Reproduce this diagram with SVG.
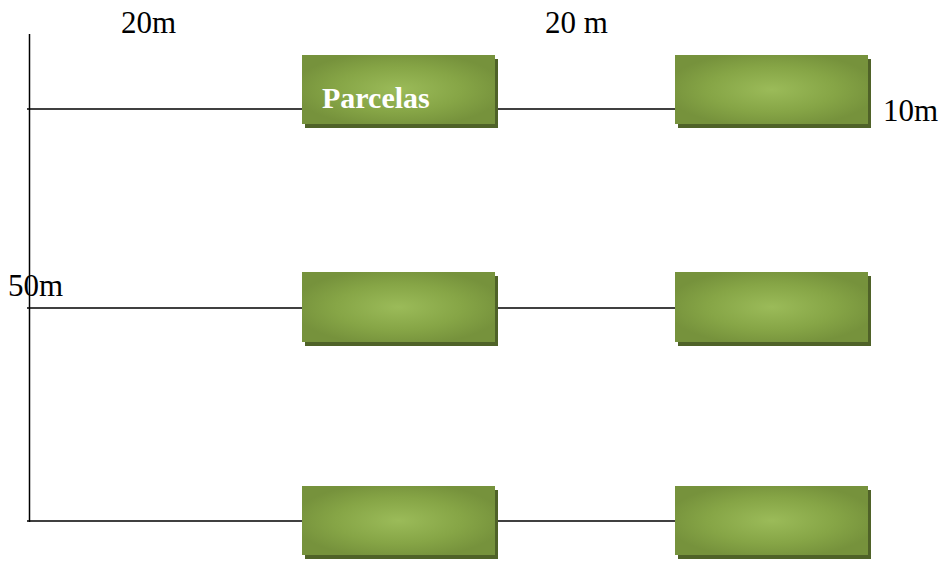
<svg xmlns="http://www.w3.org/2000/svg" width="942" height="561" viewBox="0 0 942 561">
<style>
.t{font-family:"Liberation Serif","Times New Roman",serif;font-size:31px;fill:#000}
.ln{stroke:#000;stroke-width:1.5;fill:none}
.sh{fill:#4f6228}
.bx{fill:url(#g)}
</style>
<defs>
<radialGradient id="g" cx="0.5" cy="0.5" r="0.55">
<stop offset="0" stop-color="#9bbb59"/>
<stop offset="0.6" stop-color="#86a546"/>
<stop offset="1" stop-color="#76923c"/>
</radialGradient>
</defs>
<rect width="942" height="561" fill="#fff"/>
<g id="connectors">
<line class="ln" x1="29.5" y1="34" x2="29.5" y2="522"/>
<line class="ln" x1="27" y1="109" x2="302" y2="109"/>
<line class="ln" x1="495" y1="109" x2="675" y2="109"/>
<line class="ln" x1="27" y1="308" x2="302" y2="308"/>
<line class="ln" x1="495" y1="308" x2="675" y2="308"/>
<line class="ln" x1="27" y1="521" x2="302" y2="521"/>
<line class="ln" x1="495" y1="521" x2="675" y2="521"/>
</g>
<g id="n1"><rect class="sh" x="305" y="59" width="193" height="69"/><rect class="bx" x="302" y="55" width="193" height="69"/>
<text x="322" y="108" font-family="Liberation Serif,serif" font-size="30" font-weight="bold" fill="#fff">Parcelas</text></g>
<g id="n2"><rect class="sh" x="678" y="59" width="193" height="69"/><rect class="bx" x="675" y="55" width="193" height="69"/></g>
<g id="n3"><rect class="sh" x="305" y="276" width="193" height="70"/><rect class="bx" x="302" y="272" width="193" height="70"/></g>
<g id="n4"><rect class="sh" x="678" y="276" width="193" height="70"/><rect class="bx" x="675" y="272" width="193" height="70"/></g>
<g id="n5"><rect class="sh" x="305" y="490" width="193" height="69"/><rect class="bx" x="302" y="486" width="193" height="69"/></g>
<g id="n6"><rect class="sh" x="678" y="490" width="193" height="69"/><rect class="bx" x="675" y="486" width="193" height="69"/></g>
<g id="labels">
<text class="t" x="121" y="33">20m</text>
<text class="t" x="545" y="33">20 m</text>
<text class="t" x="883" y="121">10m</text>
<text class="t" x="8" y="296">50m</text>
</g>
</svg>
